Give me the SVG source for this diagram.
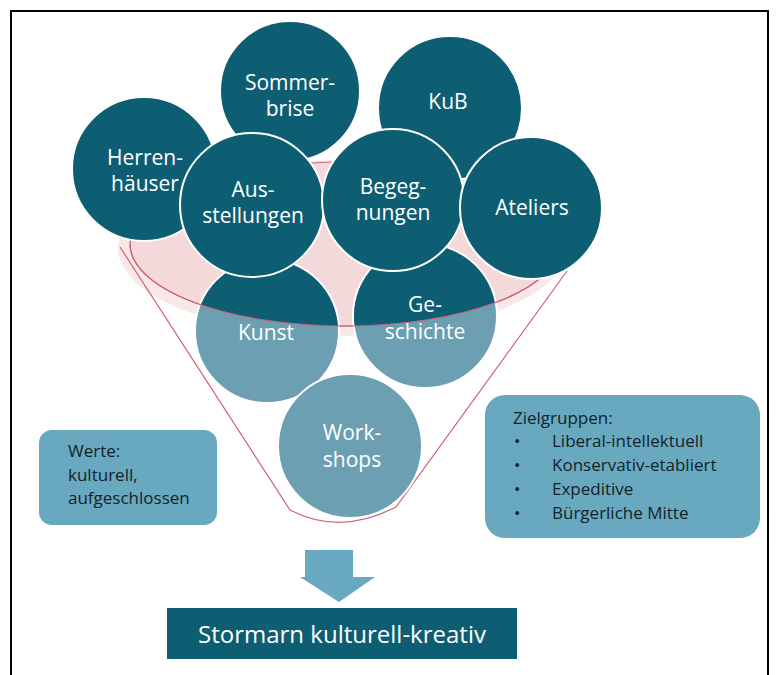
<svg xmlns="http://www.w3.org/2000/svg" width="776" height="675" viewBox="0 0 776 675">
  <style>
    .dark { fill: #0d5e73; stroke: #ffffff; stroke-width: 2; }
    .light { fill: #6b9fb1; stroke: #ffffff; stroke-width: 2; }
    .lbl { font-family: "Open Sans", "Liberation Sans", sans-serif; font-size: 21px; fill: #ffffff; text-anchor: middle; }
    .box { fill: #68a9c0; }
    .boxtxt { font-family: "Open Sans", "Liberation Sans", sans-serif; font-size: 17px; fill: #13232b; }
    .funnel { fill: none; stroke: #d0607a; stroke-width: 1.2; }
  </style>
  <defs>
    <clipPath id="funnelTop">
      <ellipse cx="345" cy="244" rx="215" ry="82"/>
    </clipPath>
  </defs>

  <rect x="0" y="0" width="776" height="675" fill="#ffffff"/>
  <!-- outer frame -->
  <rect x="11" y="11" width="757" height="680" fill="none" stroke="#000000" stroke-width="2"/>

  <!-- funnel -->
  <g id="funnel">
    <ellipse cx="342" cy="248" rx="224" ry="88" fill="#f8e8e8"/>
    <ellipse cx="345" cy="244" rx="215" ry="82" fill="#f3d9d9" stroke="#d0607a" stroke-width="1.2"/>
    <path class="funnel" d="M120,247 L290,510 Q340,536 396,507 L567,271"/>
  </g>

  <g id="sommerbrise">
    <circle class="dark" cx="290" cy="91" r="70"/>
    <text class="lbl" x="290" y="90">Sommer-</text>
    <text class="lbl" x="290" y="116">brise</text>
  </g>
  <g id="kub">
    <circle class="dark" cx="450" cy="108" r="72"/>
    <text class="lbl" x="448" y="109">KuB</text>
  </g>
  <g id="herrenhaeuser">
    <circle class="dark" cx="144" cy="169" r="72"/>
    <text class="lbl" x="145" y="165">Herren-</text>
    <text class="lbl" x="145" y="191">häuser</text>
  </g>

  <g id="kunst">
    <circle class="light" cx="267" cy="331" r="72"/>
    <circle cx="267" cy="331" r="71" fill="#0d5e73" clip-path="url(#funnelTop)"/>
    <text class="lbl" x="266" y="340">Kunst</text>
  </g>
  <g id="geschichte">
    <circle class="light" cx="425" cy="316" r="72"/>
    <circle cx="425" cy="316" r="71" fill="#0d5e73" clip-path="url(#funnelTop)"/>
    <text class="lbl" x="425" y="312">Ge-</text>
    <text class="lbl" x="425" y="339">schichte</text>
  </g>

  <!-- rim line of the funnel opening, drawn over the lower circles -->
  <path d="M130,244 A215,82 0 0 0 560,244" fill="none" stroke="#d0607a" stroke-width="1.2"/>

  <g id="workshops">
    <circle class="light" cx="350" cy="446" r="72"/>
    <text class="lbl" x="352" y="440">Work-</text>
    <text class="lbl" x="352" y="467">shops</text>
  </g>
  <g id="ausstellungen">
    <circle class="dark" cx="252" cy="205" r="72"/>
    <text class="lbl" x="253" y="197">Aus-</text>
    <text class="lbl" x="253" y="223">stellungen</text>
  </g>
  <g id="begegnungen">
    <circle class="dark" cx="393" cy="200" r="71"/>
    <text class="lbl" x="393" y="194">Begeg-</text>
    <text class="lbl" x="393" y="220">nungen</text>
  </g>
  <g id="ateliers">
    <circle class="dark" cx="531" cy="208" r="71"/>
    <text class="lbl" x="532" y="215">Ateliers</text>
  </g>

  <g id="werte">
    <rect class="box" x="39" y="430" width="178" height="95" rx="13"/>
    <text class="boxtxt" x="68" y="457">Werte:</text>
    <text class="boxtxt" x="68" y="481">kulturell,</text>
    <text class="boxtxt" x="68" y="504">aufgeschlossen</text>
  </g>

  <g id="zielgruppen">
    <rect class="box" x="485" y="395" width="275" height="143" rx="20"/>
    <text class="boxtxt" x="513" y="424">Zielgruppen:</text>
    <g class="boxtxt">
      <text x="514" y="447">•</text>
      <text x="552" y="447">Liberal-intellektuell</text>
      <text x="514" y="471">•</text>
      <text x="552" y="471">Konservativ-etabliert</text>
      <text x="514" y="495">•</text>
      <text x="552" y="495">Expeditive</text>
      <text x="514" y="519">•</text>
      <text x="552" y="519">Bürgerliche Mitte</text>
    </g>
  </g>

  <g id="connectors">
    <path d="M305,550 L353,550 L353,577 L375,577 L339,602 L300,577 L305,577 Z" fill="#68a9c0"/>
  </g>

  <g id="result">
    <rect x="167" y="608" width="350" height="51" fill="#0d5e73"/>
    <text x="342" y="643" font-family="'Open Sans', 'Liberation Sans', sans-serif" font-size="24" fill="#ffffff" text-anchor="middle">Stormarn kulturell-kreativ</text>
  </g>
</svg>
